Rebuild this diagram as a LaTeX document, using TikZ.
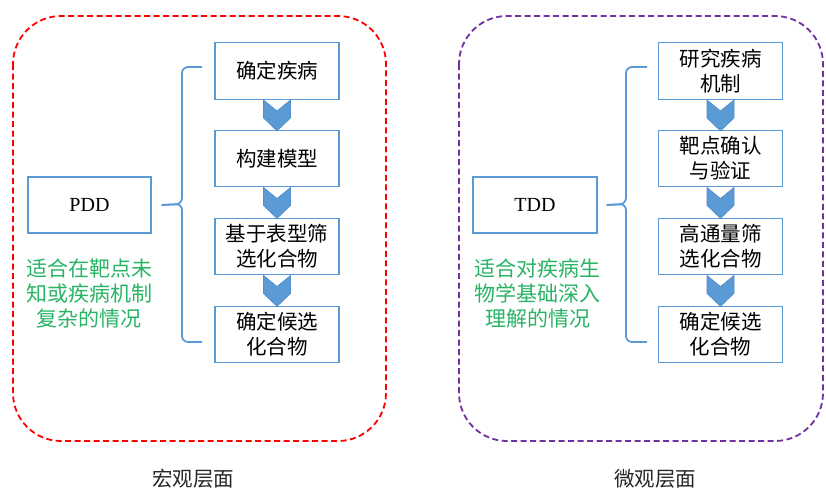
\documentclass[tikz,border=0pt]{standalone}
\usepackage{fontspec}
\usetikzlibrary{calc}
\setmainfont{Liberation Serif}
\newfontfamily\cjk{Noto Sans CJK SC}
\definecolor{boxblue}{RGB}{91,155,213}
\definecolor{chevblue}{RGB}{84,140,200}
\definecolor{txtgreen}{RGB}{40,180,100}
\definecolor{dashred}{RGB}{255,0,0}
\definecolor{dashpurple}{RGB}{112,48,160}
\tikzset{
  stepbox/.style={draw=boxblue, line width=1.4pt, fill=white, minimum width=124pt, minimum height=56.5pt, inner sep=0pt, align=center, font=\cjk\fontsize{20.5}{25}\selectfont},
  keybox/.style={draw=boxblue, line width=1.4pt, fill=white, minimum width=123pt, minimum height=56pt, inner sep=0pt, font=\fontsize{20}{24}\selectfont},
  chev/.style={fill=boxblue, draw=chevblue, line width=0.6pt},
  bracket/.style={draw=boxblue, line width=1.8pt, rounded corners=6pt},
  note/.style={text=txtgreen, align=center, font=\cjk\fontsize{21}{25}\selectfont},
  caption/.style={font=\cjk\fontsize{20.5}{24}\selectfont, text=black!85},
  frame/.style={line width=1.8pt, dash pattern=on 6pt off 3.5pt, rounded corners=48pt}
}
\begin{document}
\begin{tikzpicture}[x=1pt,y=-1pt]
\useasboundingbox (0,0) rectangle (826,488);
% frames
\draw[frame, draw=dashred] (13,16) rectangle (386,441);
\draw[frame, draw=dashpurple] (459,16) rectangle (823,441);

% left panel
\node[keybox] (pdd) at (89.5,205) {PDD};
\node[stepbox] (l1) at (277,71) {确定疾病};
\node[stepbox] (l2) at (277,158.5) {构建模型};
\node[stepbox] (l3) at (277,246.5) {基于表型筛\\选化合物};
\node[stepbox] (l4) at (277,334.5) {确定候选\\化合物};
\node[note] (lnote) at (89,293) {适合在靶点未\\知或疾病机制\\复杂的情况};
\node[caption] (lcap) at (193,479) {宏观层面};

\coordinate (ltip) at ($(pdd.east)+(10,0)$);
\coordinate (ltop) at (202,67);
\coordinate (lbot) at (202,342);
\draw[bracket] (ltop) -- (182,67) -- (182,204) -- (ltip);
\draw[bracket] (ltip) -- (182,204) -- (182,342) -- (lbot);

\foreach \a in {l1,l2,l3}{
  \fill[chev] (\a.south) ++(-13.5,0) -- ++(13.5,11) -- ++(13.5,-11) -- ++(0,18) -- ++(-13.5,13) -- ++(-13.5,-13) -- cycle;
}

% right panel
\node[keybox, minimum width=124pt] (tdd) at (535,205) {TDD};
\node[stepbox] (r1) at (720.5,71) {研究疾病\\机制};
\node[stepbox] (r2) at (720.5,158.5) {靶点确认\\与验证};
\node[stepbox] (r3) at (720.5,246.5) {高通量筛\\选化合物};
\node[stepbox] (r4) at (720.5,334.5) {确定候选\\化合物};
\node[note] (rnote) at (537.5,293) {适合对疾病生\\物学基础深入\\理解的情况};
\node[caption] (rcap) at (655,479) {微观层面};

\coordinate (rtip) at ($(tdd.east)+(9,0)$);
\coordinate (rtop) at (647,67);
\coordinate (rbot) at (647,342);
\draw[bracket] (rtop) -- (626,67) -- (626,204) -- (rtip);
\draw[bracket] (rtip) -- (626,204) -- (626,342) -- (rbot);

\foreach \a in {r1,r2,r3}{
  \fill[chev] (\a.south) ++(-13.5,0) -- ++(13.5,11) -- ++(13.5,-11) -- ++(0,18) -- ++(-13.5,13) -- ++(-13.5,-13) -- cycle;
}
\end{tikzpicture}
\end{document}
